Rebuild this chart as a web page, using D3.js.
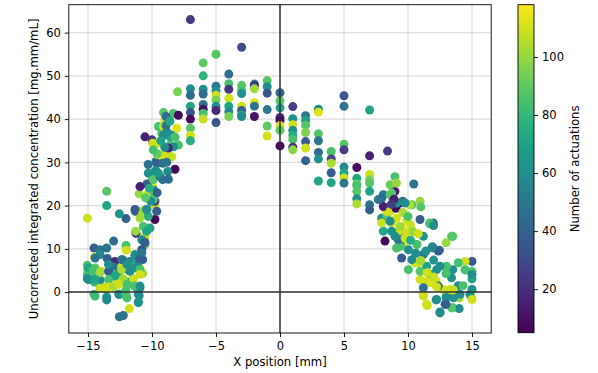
<!DOCTYPE html>
<html><head><meta charset="utf-8">
<script src="https://cdn.jsdelivr.net/npm/d3@7"></script>
<style>body{margin:0;background:#fff}svg{display:block}text{font-family:"DejaVu Sans",sans-serif;font-size:11.7px;fill:#000}</style>
</head><body><svg id="c" width="598" height="373"></svg>
<script>
// [x position mm, concentration, number of actuations]
const centerColumns = [
[-8,46.3,95],
[-7,63.0,25],[-7,47.0,60],[-7,45.5,45],[-7,43.0,72],[-7,41.5,35],[-7,40.0,8],[-7,37.9,88],[-7,36.2,110],[-7,35.0,75],
[-6,53.0,90],[-6,50.0,78],[-6,46.9,62],[-6,45.8,45],[-6,43.4,48],[-6,42.3,10],[-6,41.3,85],[-6,40.0,108],
[-5,55.0,88],[-5,47.6,50],[-5,46.5,60],[-5,45.5,110],[-5,44.4,95],[-5,43.0,62],[-5,42.0,18],[-5,39.2,35],
[-4,50.4,45],[-4,48.2,85],[-4,46.9,22],[-4,44.8,110],[-4,43.0,72],[-4,41.7,58],[-4,40.6,95],
[-3,56.6,32],[-3,47.8,88],[-3,46.7,85],[-3,45.9,62],[-3,43.0,110],[-3,42.0,38],[-3,41.0,70],[-3,40.6,60],
[-2,48.1,58],[-2,47.8,22],[-2,47.0,102],[-2,43.8,112],[-2,43.0,48],[-2,40.6,10],
[-1,48.9,88],[-1,47.5,60],[-1,46.0,35],[-1,42.2,50],[-1,38.4,90],[-1,36.1,110],
[0,46.1,42],[0,44.2,88],[0,42.6,70],[0,40.4,20],[0,39.7,8],[0,38.5,112],[0,37.4,90],[0,33.8,8],
[1,42.9,25],[1,40.1,62],[1,38.7,110],[1,37.4,60],[1,36.3,75],[1,35.3,85],[1,33.5,18],[1,32.9,98],
[2,40.8,48],[2,39.7,68],[2,38.6,88],[2,36.9,96],[2,34.8,38],[2,33.3,110],[2,30.4,40],
[3,42.3,58],[3,41.6,112],[3,36.6,88],[3,35.0,50],[3,32.3,45],[3,30.8,62],[3,25.7,72],
[4,32.5,85],[4,30.8,28],[4,29.8,104],[4,27.6,38],[4,25.3,72],
[5,45.4,35],[5,43.0,48],[5,34.2,88],[5,32.9,25],[5,28.9,58],[5,27.5,70],[5,26.4,110],[5,25.2,50],
[6,28.8,8],[6,26.3,72],[6,25.0,92],[6,24.6,85],[6,23.3,88],[6,21.6,60],[6,20.4,104],
[7,42.1,72],[7,31.5,15],[7,27.2,110],[7,26.0,95],[7,25.2,88],[7,23.3,70],[7,20.2,48],[7,19.0,38],
[8.4,32.6,25],[10.45,25.0,48]
];
const leftEdge = [
[-15.05,17.1,110],[-13.54,23.3,88],[-13.54,20.0,72],[-12.55,18.1,65],[-12.03,17.0,40],[-11.0,22.7,100],
[-11.3,18.7,38],[-10.0,24.8,110],[-9.77,16.8,8],[-10.8,18.7,102],[-9.77,20.2,108],[-10.3,17.5,75],
[-11.25,13.6,20],[-11.28,14.1,100],[-10.55,12.9,110],[-10.6,12.3,104],[-10.55,11.0,88],[-10.8,9.8,35],
[-13.0,11.8,45],[-12.03,10.8,85],[-12.0,9.7,110],[-14.53,10.2,38],[-14.06,9.8,48],[-14.5,8.1,110],
[-14.06,8.7,58],[-13.5,7.8,40],[-12.9,7.1,18],[-12.3,7.5,48],[-11.77,7.1,58],[-11.33,8.7,62],[-10.73,7.5,38],
[-15.05,6.2,85],[-15.05,5.4,100],[-14.45,5.6,88],[-14.0,4.8,108],[-15.05,4.1,85],[-15.05,3.1,55],
[-14.45,3.1,60],[-14.06,2.8,58],[-14.5,2.3,82],[-13.0,5.8,48],[-13.0,4.1,88],[-12.37,5.8,110],
[-12.55,4.6,72],[-11.85,5.2,15],[-11.33,5.8,88],[-10.94,5.4,110],[-10.73,4.3,102],[-11.07,6.9,60],
[-11.46,3.1,102],[-12.24,3.1,110],[-12.7,2.5,110],[-13.07,1.4,112],[-13.59,1.2,110],[-14.06,0.9,108],
[-13.59,0.8,104],[-11.85,2.3,60],[-11.2,1.0,62],[-10.94,1.0,50],[-12.03,0.5,85],[-12.55,-0.5,72],
[-12.03,-0.8,88],[-11.0,-0.8,60],[-14.53,-0.5,82],[-13.54,-1.1,62],[-13.54,-1.8,58],[-11.07,-2.4,60],
[-11.77,-3.8,110],[-12.55,-5.7,45],[-12.24,-5.4,48],
[-13.54,10.2,48],[-14.45,7.9,48],[-14.97,5.6,72],[-14.6,5.0,85],[-14.06,4.5,102],[-14.97,2.9,60],
[-14.45,2.9,72],[-13.4,4.8,38],[-12.37,5.2,104],[-11.72,4.8,60],[-11.33,5.6,62],[-10.94,5.2,85],
[-10.94,4.1,110],[-11.46,2.9,110],[-12.24,2.9,102],[-12.9,3.7,72],[-13.4,2.9,85],[-13.93,0.8,110],
[-13.4,1.2,110],[-13.0,1.2,104],[-12.6,1.8,110],[-11.95,1.8,85],[-11.38,1.4,85],[-10.94,1.4,60],
[-14.45,-0.9,82],[-12.6,-0.5,60],[-12.1,-0.1,85],[-11.95,-1.3,85],[-11.07,-0.5,60],[-11.07,-2.3,62],
[-11.33,8.3,60],[-10.94,7.7,38],[-10.8,9.1,48],[-12.37,7.5,48],[-13.4,6.4,60],[-11.95,6.4,62],
[-10.94,17.1,102],[-10.68,15.2,85],[-10.42,14.1,72],[-10.8,12.1,60],[-10.55,11.5,38],[-10.16,14.8,72],
[-10.42,19.1,60],[-9.63,18.7,38],[-9.77,21.0,28]
];
const leftRise = [
[-10.55,35.9,15],[-10.0,35.2,25],[-9.1,41.5,88],[-8.33,41.3,85],[-9.0,39.8,110],[-9.24,36.7,88],
[-9.55,34.4,110],[-8.46,36.3,60],[-8.6,34.0,85],[-8.85,32.1,110],[-9.24,31.7,108],[-9.37,30.2,38],
[-9.69,30.2,48],[-8.2,28.4,8],[-8.77,27.9,60],[-9.77,27.9,62],[-10.0,26.0,85],[-9.16,26.0,48],
[-10.29,22.9,110],[-9.9,23.8,60],[-9.9,21.4,88],[-11.33,19.1,38],[-10.4,19.1,60],[-7.94,40.9,8],
[-9.5,38.3,85],[-9.1,38.3,108],[-8.07,37.9,112],[-8.6,35.9,72],[-8.2,35.8,85],[-9.1,36.3,58],
[-8.85,37.1,60],[-7.94,34.0,85],[-8.33,33.6,60],[-9.95,34.4,110],[-9.5,31.7,108],[-8.85,31.7,110],
[-8.46,31.3,108],[-9.24,31.0,110],[-8.72,33.3,18],[-9.63,29.8,38],[-9.16,29.8,45],[-8.85,30.0,48],
[-8.72,26.1,45],[-9.69,28.1,60],[-10.29,27.5,62],[-10.0,25.3,110],[-10.4,25.0,38],[-9.9,26.0,88],
[-9.37,26.7,48],[-10.94,24.4,15],[-10.2,24.0,75],[-9.8,22.5,85],[-10.1,21.0,60],[-9.6,23.0,40],
[-10.5,21.8,88],[-9.5,27.5,65],[-10.3,29.5,48],[-9.6,32.0,90],[-9.0,33.5,60],[-9.3,35.0,70],
[-8.9,38.5,48],[-9.9,32.9,85],[-8.9,40.6,45],[-8.6,39.5,72]
];
const rightFall = [
[8.98,26.7,85],[8.98,23.3,15],[8.07,22.5,48],[8.72,22.9,88],[8.33,19.4,110],[7.94,17.1,60],
[8.07,14.1,72],[8.2,11.8,8],[8.85,21.4,35],[9.37,20.6,18],[9.6,21.0,48],[10.3,20.2,85],
[8.33,17.9,88],[9.1,17.1,110],[8.72,16.0,110],[9.5,14.8,112],[9.63,13.3,60],[9.37,11.8,38],
[10.7,11.0,85],[9.24,14.1,110],[8.33,18.7,110],[7.94,16.0,108],[9.63,10.6,110],[9.5,7.9,38],
[10.03,5.2,85],[10.55,6.8,110],[11.2,8.7,48],[10.94,2.9,110],[11.7,2.2,112],[12.2,2.5,110],
[11.2,-0.5,110],[11.46,-2.8,110],[12.2,-1.8,60],[12.5,-4.6,62],[12.9,-2.8,38],[13.5,-3.6,85],
[14.0,-3.8,60],[14.0,-1.3,102],[13.0,-0.9,60],[13.55,-1.3,62],[14.97,-1.3,110],[15.0,0.6,60],
[15.0,3.1,72],[15.0,7.1,38],[14.45,7.1,110],[13.93,6.8,85],[13.5,5.2,60],[13.0,6.0,85],
[13.5,12.9,88],[12.97,11.4,100],[12.37,9.5,40],[11.98,10.2,58],[11.98,16.0,50],[11.7,16.0,85],
[11.2,12.9,62],[10.94,21.0,100],[10.94,16.8,38],[10.16,20.2,104],[9.77,20.6,60],[9.37,11.0,48],
[13.93,1.5,60],[14.3,1.5,85],[13.28,0.6,110],[12.76,0.6,110],[12.37,1.4,48],[14.45,5.2,85],
[15.0,4.8,88],[11.0,19.7,88],[11.7,15.8,85],[12.0,15.4,60],[13.4,12.9,88],[12.45,9.7,38],
[11.9,10.5,58],[14.5,5.1,85],[15.0,4.1,60],[13.4,3.3,62],[12.97,4.3,85],[12.5,6.0,60],
[12.0,7.4,62],[11.46,6.0,72],[10.8,6.8,110],[9.37,10.6,85],[9.24,12.1,48],[8.98,12.9,60],
[10.03,9.8,60],[10.3,7.5,58],[10.94,4.8,88],[11.46,2.5,110],[11.85,2.2,112],[12.24,1.2,110],
[13.55,0.5,108],[14.06,-0.5,60],[14.84,-0.5,62],[15.0,-1.7,110],[11.2,1.0,48],[11.2,-0.9,110],
[11.5,-3.1,110],[12.24,-1.7,60],[12.97,-1.3,60],[13.4,-3.6,88],[12.97,-2.8,38],[12.5,-4.8,60],
[12.24,5.2,60],[11.85,4.1,62],[7.94,21.7,45],[8.07,19.8,15],[8.6,18.7,110],[9.06,19.4,8],
[8.6,22.5,88],[9.1,20.6,60],[8.6,16.4,60],[8.72,14.1,62],[9.37,15.2,102],[9.9,13.7,110],
[9.77,12.5,110],[9.1,10.2,85],[7.68,21.4,48],[8.6,24.8,92],[9.1,25.2,100],[8.9,21.5,15],
[8.7,20.3,25],[9.6,18.4,104],[9.9,16.5,110],[10.2,15.5,108],[10.4,14.0,100],[10.8,13.5,110],
[10.2,12.0,75],[10.0,17.5,85],[11.0,7.3,102],[11.5,4.5,110],[12.0,3.5,108],[10.6,9.0,60],[11.4,9.5,62]
];
const xTicks = [-15,-10,-5,0,5,10,15];
const yTicks = [0,10,20,30,40,50,60];
const cTicks = [20,40,60,80,100];
const xDomain = [-16.5,16.5], yDomain = [-9.45,66.45], cDomain = [5,118];
const xLabel = "X position [mm]";
const yLabel = "Uncorrected integrated concentration [mg.mm/mL]";
const cLabel = "Number of actuations";

const data = [].concat(centerColumns, leftEdge, leftRise, rightFall);
const svg = d3.select("#c");
const L=68.8,R=491.2,T=4.7,B=333;
const x = d3.scaleLinear().domain(xDomain).range([L,R]);
const y = d3.scaleLinear().domain(yDomain).range([B,T]);
const color = d3.scaleSequential(d3.interpolateViridis).domain(cDomain);

// grid
const g = svg.append("g");
g.selectAll(".gx").data(xTicks).join("line").attr("x1",d=>x(d)).attr("x2",d=>x(d)).attr("y1",T).attr("y2",B).attr("stroke","#dcdcdc").attr("stroke-width",1.2);
g.selectAll(".gy").data(yTicks).join("line").attr("y1",d=>y(d)).attr("y2",d=>y(d)).attr("x1",L).attr("x2",R).attr("stroke","#dcdcdc").attr("stroke-width",1.2);

// points
svg.append("g").selectAll("circle").data(data).join("circle")
  .attr("cx",d=>x(d[0])).attr("cy",d=>y(d[1])).attr("r",4.5).attr("fill",d=>color(d[2]));

// zero lines
svg.append("line").attr("x1",L).attr("x2",R).attr("y1",y(0)).attr("y2",y(0)).attr("stroke","#333").attr("stroke-width",1.5);
svg.append("line").attr("x1",x(0)).attr("x2",x(0)).attr("y1",T).attr("y2",B).attr("stroke","#333").attr("stroke-width",1.5);

// axes
const ax = svg.append("g").attr("transform",`translate(0,${B})`).call(d3.axisBottom(x).tickValues(xTicks).tickSize(4).tickPadding(4.5).tickFormat(d=>d<0?"\u2212"+Math.abs(d):d));
const ay = svg.append("g").attr("transform",`translate(${L},0)`).call(d3.axisLeft(y).tickValues(yTicks).tickSize(4).tickPadding(4));
[ax,ay].forEach(a=>{a.select(".domain").remove();a.selectAll("text").style("font-size","11.5px").style("font-family","DejaVu Sans");a.selectAll("line").attr("stroke","#000").attr("stroke-width",0.9);});
svg.append("rect").attr("x",L).attr("y",T).attr("width",R-L).attr("height",B-T).attr("fill","none").attr("stroke","#000").attr("stroke-width",0.9);

svg.append("text").attr("x",(L+R)/2).attr("y",366).attr("text-anchor","middle").text(xLabel);
svg.append("text").attr("transform",`translate(37.8,${(T+B)/2}) rotate(-90)`).attr("text-anchor","middle").text(yLabel);

// colorbar
const cbL=518, cbW=16;
const cy = d3.scaleLinear().domain(cDomain).range([B-0.3,T]);
const defs = svg.append("defs");
const grad = defs.append("linearGradient").attr("id","vg").attr("x1",0).attr("y1",1).attr("x2",0).attr("y2",0);
d3.range(0,1.0001,0.05).forEach(t=>grad.append("stop").attr("offset",t).attr("stop-color",d3.interpolateViridis(t)));
svg.append("rect").attr("x",cbL).attr("y",T).attr("width",cbW).attr("height",B-0.3-T).attr("fill","url(#vg)").attr("stroke","#000").attr("stroke-width",0.9);
const ac = svg.append("g").attr("transform",`translate(${cbL+cbW},0)`).call(d3.axisRight(cy).tickValues(cTicks).tickSize(4).tickPadding(4));
ac.select(".domain").remove();
ac.selectAll("text").style("font-size","11.5px").style("font-family","DejaVu Sans");
ac.selectAll("line").attr("stroke","#000").attr("stroke-width",0.9);
svg.append("text").attr("transform",`translate(579.3,${(T+B)/2}) rotate(-90)`).attr("text-anchor","middle").text(cLabel);
</script></body></html>
